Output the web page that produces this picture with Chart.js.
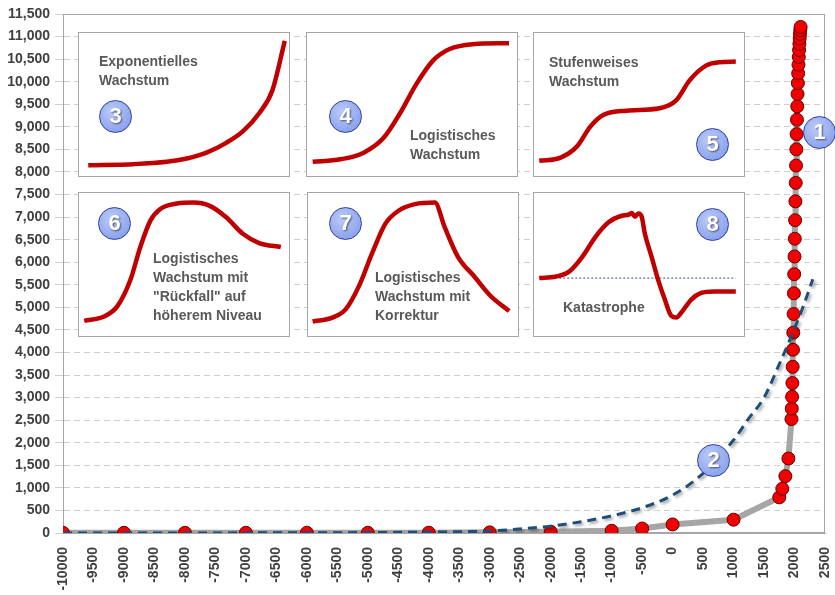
<!DOCTYPE html>
<html lang="de">
<head>
  <meta charset="UTF-8" />
  <title>Weltbevölkerung und Wachstumsmodelle</title>
  <script src="https://cdn.jsdelivr.net/npm/chart.js"></script>
  <style>
    * { margin: 0; padding: 0; box-sizing: border-box; }
    body { background: #fff; width: 835px; height: 595px; overflow: hidden; font-family: 'Liberation Sans', Arial, sans-serif; }
    #wrap { position: relative; width: 835px; height: 595px; }
    #mainChart { position: absolute; left: 0; top: 0; }
    .panel { position: absolute; width: 212px; height: 145px; border: 1px solid #a6a6a6; background: #fff; }
    .panel canvas { position: absolute; left: 0; top: 0; }
    .label { position: absolute; font-size: 14px; font-weight: bold; line-height: 19px; color: #595959; white-space: nowrap; }
    .badge {
      position: absolute; width: 33px; height: 33px; border-radius: 50%;
      border: 1.5px solid #2e3d9c;
      background: radial-gradient(circle at 40% 35%, #bccbf8, #7b95e8);
      color: #fff; font-weight: bold; font-size: 22px; line-height: 30px; text-align: center;
      text-shadow: 1px 1px 2px rgba(0, 0, 0, 0.55);
    }
  </style>
</head>
<body>
<div id="wrap">
  <canvas id="mainChart" width="835" height="595"></canvas>

  <div class="panel" style="left:78px;top:32px"><canvas id="p3" width="210" height="143"></canvas></div>
  <div class="panel" style="left:306px;top:32px"><canvas id="p4" width="210" height="143"></canvas></div>
  <div class="panel" style="left:533px;top:32px"><canvas id="p5" width="210" height="143"></canvas></div>
  <div class="panel" style="left:78px;top:192px"><canvas id="p6" width="210" height="143"></canvas></div>
  <div class="panel" style="left:307px;top:192px"><canvas id="p7" width="210" height="143"></canvas></div>
  <div class="panel" style="left:533px;top:192px"><canvas id="p8" width="210" height="143"></canvas></div>

  <div class="label" style="left:99px;top:52px">Exponentielles<br>Wachstum</div>
  <div class="label" style="left:410px;top:126px">Logistisches<br>Wachstum</div>
  <div class="label" style="left:549px;top:53px">Stufenweises<br>Wachstum</div>
  <div class="label" style="left:153px;top:249px">Logistisches<br>Wachstum mit<br>"Rückfall" auf<br>höherem Niveau</div>
  <div class="label" style="left:375px;top:268px">Logistisches<br>Wachstum mit<br>Korrektur</div>
  <div class="label" style="left:563px;top:298px">Katastrophe</div>

  <div class="badge" style="left:803px;top:116px">1</div>
  <div class="badge" style="left:697px;top:444px">2</div>
  <div class="badge" style="left:99px;top:100px">3</div>
  <div class="badge" style="left:329px;top:100px">4</div>
  <div class="badge" style="left:696px;top:128px">5</div>
  <div class="badge" style="left:98px;top:207px">6</div>
  <div class="badge" style="left:329px;top:207px">7</div>
  <div class="badge" style="left:696px;top:208px">8</div>
</div>

<script>
  // world population (millions) by year
  const years = [-10000, -9000, -8000, -7000, -6000, -5000, -4000, -3000, -2000, -1000, -500, 0, 1000,
    1750, 1800, 1850, 1900, 1950, 1955, 1960, 1965, 1970, 1975, 1980, 1985, 1990, 1995, 2000, 2005,
    2010, 2015, 2020, 2025, 2030, 2035, 2040, 2045, 2050, 2055, 2060, 2065, 2070, 2075, 2080, 2085,
    2090, 2095, 2100];
  const population = [4, 5, 5, 5, 5, 5, 7, 14, 27, 50, 100, 190, 295,
    790, 980, 1260, 1650, 2525, 2758, 3018, 3322, 3682, 4061, 4440, 4853, 5310, 5735, 6127, 6520,
    6930, 7349, 7758, 8142, 8501, 8838, 9157, 9454, 9725, 9968, 10184, 10375, 10548, 10700, 10837, 10958,
    11059, 11143, 11213];

  // dashed exponential trend
  const trendYears = [-10000, -8000, -6000, -5000, -4000, -3000, -2500, -2000, -1500, -1000, -500, 0,
    500, 1000, 1250, 1500, 1750, 2000, 2150, 2300];
  const trendValues = [0, 2, 5, 10, 20, 45, 90, 150, 250, 380, 560, 840,
    1320, 2060, 2540, 3000, 3740, 4530, 5050, 5620];

  // axis settings
  const xMin = -10000, xMax = 2500, xStep = 500;
  const yMin = 0, yMax = 11500, yStep = 500;

  // inset curves (0-100 in each box)
  const expX = [4.4, 26.1, 41.8, 51.3, 60.7, 70.1, 78, 85.8, 92.1, 98];
  const expY = [7.6, 8.3, 9.9, 12.2, 16.3, 23.2, 31.2, 43.9, 60, 94.5];
  const logX = [2.7, 16, 27, 36.5, 44.3, 52.2, 60, 67.9, 78.9, 96.2];
  const logY = [9.9, 11.7, 16.3, 26.7, 43.9, 64.6, 80.7, 88.8, 92.2, 92.9];
  const stepX = [2.5, 12.7, 20.6, 26.9, 33.2, 44.2, 59.9, 67.8, 74.1, 81.9, 88.2, 96.1];
  const stepY = [10.6, 12.9, 20.9, 34.7, 42.8, 45.7, 47.4, 53.1, 66.9, 77.2, 79.5, 80];
  const fallbackX = [2.5, 11.9, 18.3, 24.5, 29.2, 34, 38.7, 46.6, 54.4, 62.3, 70.1, 78, 85.8, 96.1];
  const fallbackY = [10.6, 13.6, 20.9, 39.3, 62.3, 80.7, 88.8, 92.6, 93.3, 91, 83, 71.5, 65, 62.3];
  const correctionX = [2.2, 11.6, 17.9, 24.2, 30.5, 36.8, 43.1, 50.9, 60.4, 65.1, 71.4, 79.2, 87.1, 95.8];
  const correctionY = [10.1, 12.9, 18.6, 34.7, 57.7, 78.4, 87.6, 92.2, 93.3, 76.1, 55.4, 41.6, 27.8, 17.4];
  const crashX = [2.5, 10.4, 16.7, 23, 29.2, 35.5, 41.8, 45, 46.6, 48.1, 49.7, 51.3, 52.8, 56, 59.1,
    62.3, 65.4, 67.8, 70.1, 74.9, 79.6, 85.8, 96.1];
  const crashY = [40.5, 41.6, 45, 55.4, 69.2, 79.5, 84.1, 84.8, 86, 83.4, 85.7, 83.4, 71.5, 55.4, 39.3,
    25.5, 14, 12.9, 16.3, 25.5, 30.1, 31.2, 31.2];
  const crashBaseX = [2.5, 96];
  const crashBaseY = [40.5, 40.5];

  const toPoints = (xs, ys) => xs.map((x, i) => ({ x: x, y: ys[i] }));

  // solid plot frame drawn over the dashed grid
  const frame = {
    id: 'frame',
    beforeDatasetsDraw(chart) {
      const { ctx, chartArea: a } = chart;
      ctx.save();
      ctx.setLineDash([]);
      ctx.strokeStyle = '#a6a6a6';
      ctx.lineWidth = 1;
      ctx.strokeRect(a.left + 0.5, a.top + 0.5, a.width - 1, a.height - 1);
      ctx.restore();
    }
  };

  // soft shadow under the dashed trend line
  const lineShadow = {
    id: 'lineShadow',
    beforeDatasetDraw(chart, args) {
      if (args.index !== 1) return;
      const c = chart.ctx;
      c.save();
      c.shadowColor = 'rgba(0,0,0,0.35)';
      c.shadowBlur = 3;
      c.shadowOffsetX = 2;
      c.shadowOffsetY = 2;
    },
    afterDatasetDraw(chart, args) {
      if (args.index === 1) chart.ctx.restore();
    }
  };

  const tickFont = { family: "'Liberation Sans', Arial, sans-serif", size: 14, weight: 'bold' };

  new Chart(document.getElementById('mainChart'), {
    type: 'line',
    data: {
      datasets: [
        {
          label: 'Weltbevölkerung',
          data: toPoints(years, population),
          borderColor: '#a6a6a6',
          borderWidth: 6,
          pointRadius: 6.5,
          pointBackgroundColor: '#f00000',
          pointBorderColor: '#6b0000',
          pointBorderWidth: 1,
          tension: 0,
          order: 2
        },
        {
          label: 'Trend',
          data: toPoints(trendYears, trendValues),
          borderColor: '#1f4e79',
          borderWidth: 3,
          borderDash: [9, 6],
          pointRadius: 0,
          cubicInterpolationMode: 'monotone',
          order: 1
        }
      ]
    },
    options: {
      responsive: false,
      animation: false,
      layout: { padding: { top: 14, right: 10, left: 0, bottom: 0 } },
      plugins: { legend: { display: false }, tooltip: { enabled: false } },
      scales: {
        x: {
          type: 'linear',
          min: xMin, max: xMax,
          afterFit: s => { s.height = 62; s.paddingLeft = 0; s.paddingRight = 0; },
          grid: { display: false },
          border: { color: '#a6a6a6' },
          ticks: {
            stepSize: xStep, autoSkip: false, minRotation: 90, maxRotation: 90,
            padding: 6, color: '#404040', font: tickFont,
            callback: v => String(v)
          }
        },
        y: {
          min: yMin, max: yMax,
          afterFit: s => { s.width = 63; s.paddingTop = 0; s.paddingBottom = 0; },
          grid: { color: '#cfcfcf', tickColor: '#cfcfcf', tickLength: 8 },
          border: { color: '#a6a6a6', dash: [6, 4] },
          ticks: {
            stepSize: yStep, autoSkip: false, padding: 5, color: '#404040', font: tickFont,
            callback: v => v.toLocaleString('en-US')
          }
        }
      }
    },
    plugins: [frame, lineShadow]
  });

  function drawInset(id, xs, ys, baseX, baseY) {
    const sets = [{
      data: toPoints(xs, ys),
      borderColor: '#c00000',
      borderWidth: 4.5,
      pointRadius: 0,
      cubicInterpolationMode: 'monotone'
    }];
    if (baseX) {
      sets.push({
        data: toPoints(baseX, baseY),
        borderColor: '#2e5597',
        borderWidth: 1,
        borderDash: [2, 2],
        pointRadius: 0
      });
    }
    new Chart(document.getElementById(id), {
      type: 'line',
      data: { datasets: sets },
      options: {
        responsive: false,
        animation: false,
        layout: { padding: 0 },
        plugins: { legend: { display: false }, tooltip: { enabled: false } },
        scales: {
          x: { type: 'linear', min: 0, max: 100, display: false },
          y: { min: 0, max: 100, display: false }
        }
      }
    });
  }

  drawInset('p3', expX, expY);
  drawInset('p4', logX, logY);
  drawInset('p5', stepX, stepY);
  drawInset('p6', fallbackX, fallbackY);
  drawInset('p7', correctionX, correctionY);
  drawInset('p8', crashX, crashY, crashBaseX, crashBaseY);
</script>
</body>
</html>
